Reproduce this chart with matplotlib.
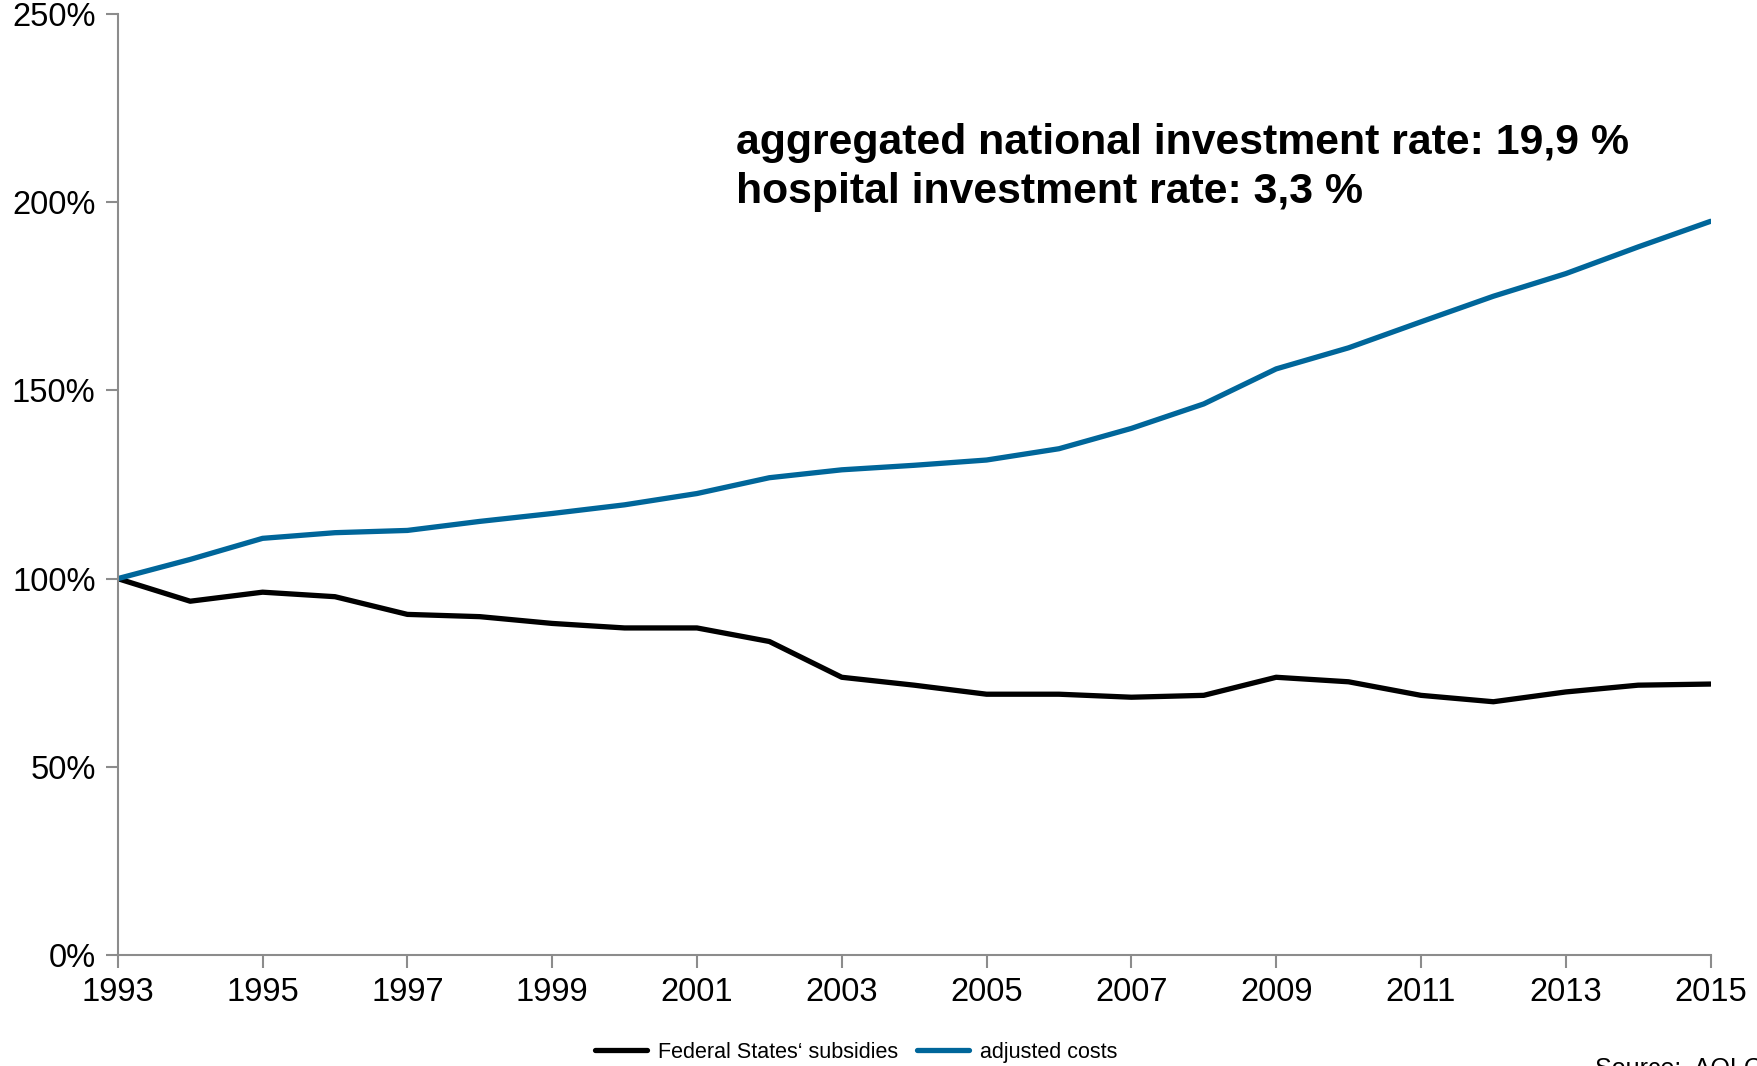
import matplotlib.pyplot as plt
from matplotlib.ticker import FuncFormatter

plt.rcParams['font.family'] = ['Liberation Sans', 'DejaVu Sans']

# data (index 1993 = 100 %)
years = list(range(1993, 2016))
subsidies = [100, 94.0, 96.4, 95.2, 90.5, 89.9, 88.1, 86.9, 86.9, 83.3, 73.8, 71.7,
             69.3, 69.3, 68.5, 69.0, 73.8, 72.6, 69.0, 67.3, 69.9, 71.7, 72.0]
costs = [100, 105.1, 110.7, 112.2, 112.8, 115.2, 117.3, 119.6, 122.6, 126.8, 128.9, 130.1,
         131.5, 134.5, 139.9, 146.4, 155.7, 161.3, 168.2, 175.0, 181.0, 188.1, 194.9]
x_ticks = list(range(1993, 2016, 2))
y_ticks = [0, 50, 100, 150, 200, 250]

fig = plt.figure(figsize=(17.58, 10.66), dpi=100)
ax = fig.add_axes([0.067, 0.104, 0.906, 0.883])

ax.plot(years, subsidies, color='black', lw=3.8, label='Federal States\u2018 subsidies',
        solid_capstyle='round')
ax.plot(years, costs, color='#00669a', lw=3.8, label='adjusted costs', solid_capstyle='round')

ax.set_xlim(1993, 2015)
ax.set_ylim(0, 250)
ax.set_xticks(x_ticks)
ax.set_yticks(y_ticks)
ax.yaxis.set_major_formatter(FuncFormatter(lambda v, p: f'{v:.0f}%'))

for s in ['top', 'right']:
    ax.spines[s].set_visible(False)
for s in ['left', 'bottom']:
    ax.spines[s].set_color('#8c8c8c')
    ax.spines[s].set_linewidth(1.5)
ax.tick_params(axis='both', colors='#8c8c8c', width=1.5, length=9, labelsize=23.5,
               labelcolor='black', direction='out')
ax.tick_params(axis='x', pad=7)
ax.tick_params(axis='y', pad=7)

ax.text(0.388, 0.837, 'aggregated national investment rate: 19,9 %\nhospital investment rate: 3,3 %',
        transform=ax.transAxes, fontsize=30.8, fontweight='bold', va='center', ha='left',
        linespacing=1.3)

fig.legend(loc='center', bbox_to_anchor=(0.487, 0.013), ncol=2, frameon=False, fontsize=15.5,
           handlelength=2.4, handletextpad=0.5, columnspacing=0.9)

fig.text(0.907, 0.008, 'Source:  AOLG', fontsize=18, va='top', ha='left')

fig.savefig('out.png', dpi=100)
